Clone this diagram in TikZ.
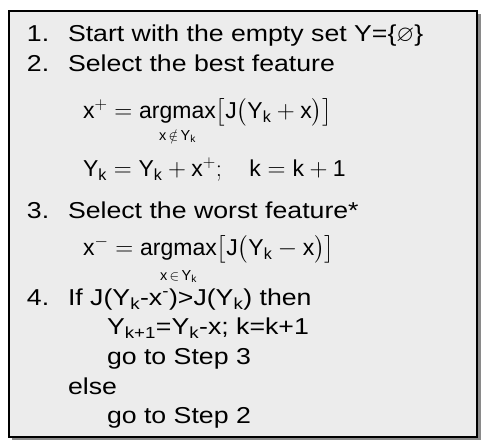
\documentclass[tikz,border=0pt]{standalone}
\usepackage{amsmath,amssymb}
\usepackage{fontspec}
\setmainfont[FakeStretch=1.16]{Liberation Sans}
\newfontfamily\eqfont{Liberation Sans}
\definecolor{boxfill}{HTML}{ECECEC}
\definecolor{shadowgray}{HTML}{8A8A8A}
\newcommand{\tx}[1]{\text{#1}}
\newcommand{\limsub}[2]{\lower#2\hbox{\eqfont\fontsize{14.5}{14.5}\selectfont x$\,#1\,$Y\textsubscript{k}}}
\begin{document}
\begin{tikzpicture}[x=1pt,y=-1pt,
  txt/.style={inner sep=0pt,outer sep=0pt,anchor=base west,font=\fontsize{23}{27}\selectfont},
  eq/.style={inner sep=0pt,outer sep=0pt,anchor=base west,font=\eqfont\fontsize{23}{27}\selectfont},
  frame/.style={draw=black,line width=1.4pt,fill=boxfill},
  shadowbox/.style={fill=shadowgray}]
\useasboundingbox (0,0) rectangle (488,446);
\fill[shadowbox] (12,14) rectangle (480.5,440.5);
\draw[frame] (9,11) rectangle (477,437);
% step numbers
\node[txt] (n1) at (27,42) {1.};
\node[txt] (t1) at (68,42) {Start with the empty set Y=\{$\varnothing$\}};
\node[txt] (n2) at (27,72) {2.};
\node[txt] (t2) at (68,72) {Select the best feature};
\node[eq] (f1) at (83,119) {$\tx{x}^{+}=\mathop{\tx{argmax}}\limits_{\limsub{\notin}{3pt}}\bigl[\tx{J}\bigl(\tx{Y}_{\tx{k}}+\tx{x}\bigr)\bigr]$};
\node[eq] (f2) at (83,177) {$\tx{Y}_{\tx{k}}=\tx{Y}_{\tx{k}}+\tx{x}^{+};\quad \tx{k}=\tx{k}+\tx{1}$};
\node[txt] (n3) at (27,219) {3.};
\node[txt] (t3) at (68,219) {Select the worst feature*};
\node[eq] (f3) at (83,256) {$\tx{x}^{-}=\mathop{\tx{argmax}}\limits_{\limsub{\in}{6pt}}\bigl[\tx{J}\bigl(\tx{Y}_{\tx{k}}-\tx{x}\bigr)\bigr]$};
\node[txt] (n4) at (27,306) {4.};
\node[txt] (t4) at (68,306) {If J(Y\textsubscript{k}-x\textsuperscript{-})>J(Y\textsubscript{k}) then};
\node[txt] (t5) at (107,335) {Y\textsubscript{k+1}=Y\textsubscript{k}-x; k=k+1};
\node[txt] (t6) at (107,365) {go to Step 3};
\node[txt] (t7) at (68,395) {else};
\node[txt] (t8) at (107,424) {go to Step 2};
\end{tikzpicture}
\end{document}
